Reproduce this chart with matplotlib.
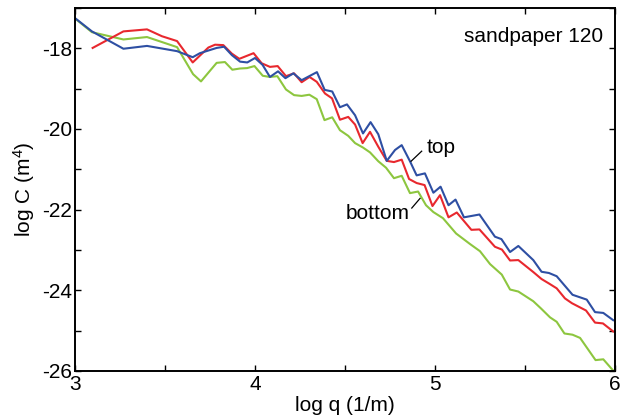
import matplotlib
matplotlib.use("Agg")
import matplotlib.pyplot as plt

plt.rcParams['font.family'] = ['Liberation Sans', 'DejaVu Sans']
plt.rcParams['mathtext.fontset'] = 'custom'
plt.rcParams['mathtext.rm'] = 'Liberation Sans'
plt.rcParams['mathtext.it'] = 'Liberation Sans:italic'

# ---- data (log q in 1/m, log C in m^4) ----
top_q = [3.000, 3.094, 3.269, 3.400, 3.567, 3.654, 3.694, 3.787, 3.828, 3.872,
         3.917, 3.957, 4.000, 4.042, 4.083, 4.128, 4.169, 4.213, 4.259, 4.344,
         4.387, 4.429, 4.472, 4.511, 4.556, 4.600, 4.642, 4.685, 4.732, 4.778,
         4.815, 4.861, 4.898, 4.944, 4.991, 5.031, 5.075, 5.114, 5.161, 5.247,
         5.333, 5.369, 5.417, 5.463, 5.546, 5.592, 5.633, 5.676, 5.764, 5.843,
         5.889, 5.935, 5.990]
top_C = [-17.25, -17.58, -18.01, -17.94, -18.07, -18.22, -18.12, -17.99, -17.96, -18.17,
         -18.33, -18.35, -18.24, -18.41, -18.71, -18.57, -18.74, -18.62, -18.79, -18.59,
         -19.03, -19.07, -19.46, -19.39, -19.66, -20.11, -19.83, -20.13, -20.79, -20.52,
         -20.40, -20.80, -21.15, -21.10, -21.58, -21.43, -21.89, -21.75, -22.19, -22.12,
         -22.67, -22.73, -23.05, -22.90, -23.25, -23.54, -23.57, -23.65, -24.11, -24.23,
         -24.54, -24.56, -24.74]

mid_q = [3.098, 3.269, 3.400, 3.483, 3.567, 3.654, 3.741, 3.778, 3.824, 3.871,
         3.913, 3.992, 4.037, 4.083, 4.126, 4.172, 4.217, 4.259, 4.303, 4.343,
         4.389, 4.428, 4.472, 4.518, 4.556, 4.598, 4.639, 4.685, 4.732, 4.772,
         4.815, 4.856, 4.898, 4.942, 4.986, 5.028, 5.075, 5.121, 5.202, 5.247,
         5.333, 5.372, 5.417, 5.463, 5.547, 5.592, 5.633, 5.676, 5.722, 5.761,
         5.839, 5.889, 5.933, 5.990]
mid_C = [-17.99, -17.58, -17.53, -17.70, -17.82, -18.35, -17.98, -17.91, -17.92, -18.13,
         -18.26, -18.12, -18.37, -18.46, -18.44, -18.69, -18.62, -18.84, -18.71, -18.83,
         -19.12, -19.24, -19.77, -19.70, -19.89, -20.35, -20.07, -20.44, -20.79, -20.82,
         -20.76, -21.24, -21.34, -21.39, -21.91, -21.64, -22.19, -22.07, -22.50, -22.49,
         -22.92, -22.99, -23.26, -23.25, -23.55, -23.72, -23.83, -23.95, -24.20, -24.32,
         -24.50, -24.80, -24.82, -25.02]

bot_q = [3.000, 3.094, 3.269, 3.400, 3.567, 3.656, 3.700, 3.787, 3.833, 3.874,
         3.917, 3.956, 3.997, 4.043, 4.083, 4.124, 4.172, 4.217, 4.259, 4.302,
         4.343, 4.386, 4.429, 4.472, 4.518, 4.556, 4.600, 4.639, 4.685, 4.728,
         4.772, 4.815, 4.861, 4.906, 4.950, 4.991, 5.044, 5.117, 5.194, 5.250,
         5.306, 5.371, 5.417, 5.463, 5.546, 5.589, 5.639, 5.676, 5.719, 5.764,
         5.806, 5.892, 5.935, 5.990]
bot_C = [-17.26, -17.60, -17.78, -17.72, -17.97, -18.64, -18.82, -18.36, -18.34, -18.53,
         -18.50, -18.49, -18.44, -18.68, -18.71, -18.69, -19.02, -19.16, -19.18, -19.15,
         -19.26, -19.78, -19.71, -20.03, -20.17, -20.35, -20.46, -20.58, -20.80, -20.96,
         -21.22, -21.16, -21.59, -21.55, -21.89, -22.06, -22.21, -22.59, -22.85, -23.03,
         -23.35, -23.61, -23.98, -24.03, -24.27, -24.45, -24.67, -24.78, -25.07, -25.10,
         -25.18, -25.73, -25.71, -25.99]

x_ticks = [3, 4, 5, 6]
y_ticks = [-26, -24, -22, -20, -18]

fig = plt.figure(figsize=(6.32, 4.16), dpi=100)
ax = fig.add_axes([75/632, 1-371/416, 540/632, 363/416])

ax.plot(bot_q, bot_C, color='#8DC63F', lw=1.5)
ax.plot(mid_q, mid_C, color='#E8282E', lw=1.5)
ax.plot(top_q, top_C, color='#2E4FA3', lw=1.5)

ax.set_xlim(3, 6)
ax.set_ylim(-26, -17)
ax.set_xticks(x_ticks)
ax.set_xticklabels([str(t) for t in x_ticks])
ax.set_yticks(y_ticks)
ax.set_yticklabels([str(t) for t in y_ticks])
ax.set_xticks([3.5, 4.5, 5.5], minor=True)
ax.set_yticks([-25, -23, -21, -19, -17], minor=True)
ax.tick_params(which='both', direction='in', top=True, right=True,
               length=4, width=1.0, labelsize=15)
ax.tick_params(axis='y', pad=2)
ax.tick_params(axis='x', pad=3)
for s in ax.spines.values():
    s.set_linewidth(1.4)

ax.set_xlabel('log q (1/m)', fontsize=15, labelpad=1)
ax.set_ylabel('log C (m$^{4}$)', fontsize=15, labelpad=4)

ax.text(5.933, -17.70, 'sandpaper 120', fontsize=15, ha='right', va='center')
ax.text(4.955, -20.47, 'top', fontsize=15, ha='left', va='center')
ax.plot([4.867, 4.926], [-20.80, -20.55], color='black', lw=0.9)
ax.text(4.861, -22.09, 'bottom', fontsize=15, ha='right', va='center')
ax.plot([4.871, 4.917], [-21.96, -21.72], color='black', lw=0.9)

fig.savefig('out.png', dpi=100)
